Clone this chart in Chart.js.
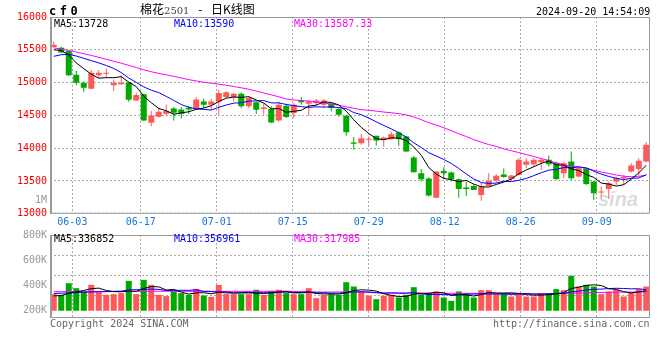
<!DOCTYPE html>
<html><head><meta charset="utf-8">
<script src="https://cdn.jsdelivr.net/npm/chart.js@4.4.1/dist/chart.umd.min.js"></script>
<style>
html,body{margin:0;padding:0;background:#fff;width:660px;height:360px;overflow:hidden;position:relative;font-family:'DejaVu Sans Mono',monospace;}
.t{position:absolute;white-space:pre;font-size:10px;line-height:1;font-family:'DejaVu Sans Mono',monospace;}
#c1{position:absolute;left:0;top:0;}
#c2{position:absolute;left:0;top:226px;}
</style></head><body>
<canvas id="c1" width="660" height="232"></canvas>
<canvas id="c2" width="660" height="134"></canvas>
<div class="t" style="left:49px;top:5px;font-weight:bold;font-size:12px;letter-spacing:3.5px">cf0</div>
<div class="t" style="left:140px;top:3px;font-family:'Noto Sans CJK SC';font-size:12px;word-spacing:6px;color:#000">棉花<span style="font-family:'DejaVu Serif';font-size:10px;color:#444">2501</span> - 日K线图</div>
<div class="t" style="left:536px;top:7px;color:#000">2024-09-20 14:54:09</div>
<div class="t" style="left:54px;top:18.5px;color:#000">MA5:13728</div>
<div class="t" style="left:174px;top:18.5px;color:#0000ff">MA10:13590</div>
<div class="t" style="left:294px;top:18.5px;color:#ff00ff">MA30:13587.33</div>
<div class="t" style="left:54px;top:233.5px;color:#000">MA5:336852</div>
<div class="t" style="left:174px;top:233.5px;color:#0000ff">MA10:356961</div>
<div class="t" style="left:294px;top:233.5px;color:#ff00ff">MA30:317985</div>
<div class="t" style="right:613px;top:195px;color:#999">1M</div>
<div class="t" style="left:50px;top:319px;color:#666">Copyright 2024 SINA.COM</div>
<div class="t" style="left:493px;top:319px;color:#666">http://finance.sina.com.cn</div>
<div class="t" style="left:598px;top:189px;font-family:'Liberation Sans';font-style:italic;font-weight:bold;font-size:20px;color:rgba(190,190,190,0.55)">sina</div>
<script>
const dates = ['05-29','05-30','05-31',
 '06-03','06-04','06-05','06-06','06-07','06-11','06-12','06-13','06-14',
 '06-17','06-18','06-19','06-20','06-21','06-24','06-25','06-26','06-27','06-28',
 '07-01','07-02','07-03','07-04','07-05','07-08','07-09','07-10','07-11','07-12',
 '07-15','07-16','07-17','07-18','07-19','07-22','07-23','07-24','07-25','07-26',
 '07-29','07-30','07-31','08-01','08-02','08-05','08-06','08-07','08-08','08-09',
 '08-12','08-13','08-14','08-15','08-16','08-19','08-20','08-21','08-22','08-23',
 '08-26','08-27','08-28','08-29','08-30','09-02','09-03','09-04','09-05','09-06',
 '09-09','09-10','09-11','09-12','09-13','09-18','09-19','09-20'];
const tickDates = ['06-03','06-17','07-01','07-15','07-29','08-12','08-26','09-09'];
const priceTicks = [13000,13500,14000,14500,15000,15500,16000];
const volTicks = [200,400,600,800];

const open = [15544,15530,15483,15121,14998,14907,15111,15136,14958,14973,
 14998,14728,14820,14386,14478,14524,14606,14590,14616,14606,
 14713,14662,14713,14779,14779,14830,14637,14698,14596,14596,
 14422,14647,14535,14728,14677,14688,14662,14677,14596,14494,
 14086,14076,14127,14188,14127,14137,14239,14178,13857,13617,
 13536,13245,13653,13627,13526,13398,13424,13286,13424,13505,
 13597,13530,13592,13745,13755,13785,13821,13770,13617,13796,
 13566,13694,13490,13322,13378,13490,13541,13643,13683,13796];
const high = [15626,15545,15493,15177,15019,15192,15187,15213,15049,15111,
 15009,14846,14830,14565,14616,14667,14626,14626,14641,14779,
 14754,14749,14891,14866,14841,14851,14790,14713,14688,14637,
 14713,14677,14688,14779,14738,14749,14749,14688,14611,14509,
 14168,14219,14178,14188,14178,14254,14254,14188,13882,13683,
 13556,13653,13709,13643,13541,13490,13449,13474,13617,13602,
 13690,13590,13847,13847,13847,13847,13887,13796,13796,13948,
 13719,13704,13500,13413,13490,13566,13592,13770,13847,14091];
const low = [15534,15450,15100,14958,14861,14897,15065,15075,14871,14963,
 14708,14718,14412,14335,14463,14504,14422,14453,14519,14590,
 14611,14586,14509,14764,14713,14611,14611,14519,14509,14382,
 14407,14458,14458,14662,14494,14647,14611,14560,14484,14188,
 13974,14050,14035,14035,14025,14127,14035,13938,13627,13490,
 13261,13235,13526,13490,13245,13271,13362,13199,13413,13474,
 13550,13515,13582,13694,13719,13668,13719,13515,13541,13515,
 13551,13439,13209,13235,13225,13439,13439,13633,13582,13785];
const close = [15575,15460,15111,14998,14922,15151,15151,15151,14998,14998,
 14738,14810,14422,14499,14555,14565,14540,14524,14590,14743,
 14662,14713,14841,14851,14830,14637,14764,14586,14621,14392,
 14662,14473,14662,14698,14713,14728,14728,14611,14509,14244,
 14066,14152,14142,14117,14162,14213,14137,13948,13632,13526,
 13276,13643,13617,13526,13378,13378,13362,13413,13500,13577,
 13561,13582,13821,13796,13821,13821,13755,13531,13770,13541,
 13694,13454,13311,13337,13464,13541,13561,13734,13806,14050];
const ma5 = [15500,15490,15420,15300,15213,15128,15067,15075,15075,15090,
 15007,14939,14793,14693,14605,14570,14516,14537,14555,14592,
 14612,14646,14710,14762,14779,14774,14785,14734,14688,14600,
 14605,14547,14562,14577,14642,14655,14706,14696,14658,14564,
 14432,14316,14223,14144,14128,14157,14154,14115,14018,13891,
 13704,13605,13539,13518,13488,13508,13452,13411,13406,13446,
 13483,13527,13608,13667,13716,13768,13803,13745,13740,13684,
 13658,13598,13554,13467,13452,13421,13443,13527,13621,13738];
const ma10 = [15400,15425,15430,15405,15370,15335,15300,15260,15215,15152,
 15068,15003,14934,14884,14847,14789,14728,14665,14624,14599,
 14591,14581,14623,14658,14686,14693,14716,14722,14725,14690,
 14690,14666,14648,14633,14621,14630,14626,14629,14618,14603,
 14543,14511,14459,14401,14346,14294,14235,14169,14081,14010,
 13931,13880,13827,13768,13690,13606,13529,13475,13462,13467,
 13496,13489,13510,13537,13581,13625,13665,13677,13704,13700,
 13713,13700,13649,13604,13568,13540,13520,13541,13544,13595];
const ma30 = [15530,15510,15490,15465,15440,15415,15385,15355,15325,15295,
 15262,15230,15195,15165,15140,15118,15095,15070,15045,15025,
 15005,14990,14975,14958,14940,14920,14898,14870,14842,14813,
 14783,14750,14735,14725,14718,14704,14690,14672,14656,14630,
 14608,14586,14577,14564,14551,14539,14526,14507,14475,14434,
 14388,14352,14311,14267,14219,14177,14130,14091,14054,14026,
 13990,13960,13932,13902,13872,13842,13810,13774,13749,13725,
 13713,13690,13662,13636,13613,13590,13571,13564,13570,13587];
// volumes in thousands of lots
const vol = [279,268,463,379,312,435,312,268,279,296,
 502,279,519,435,268,246,324,296,268,368,
 257,234,435,279,279,279,279,352,268,335,
 352,296,279,279,379,212,268,279,268,480,
 407,324,251,195,251,268,223,268,396,268,
 296,324,223,167,324,296,223,346,346,279,
 296,240,296,240,240,296,279,363,346,586,
 407,435,407,279,324,352,240,307,363,407];
const volMa5 = [250,255,290,320,340,371,380,341,321,318,
 331,325,375,406,401,349,358,314,280,300,
 303,285,312,315,297,301,310,294,291,303,
 317,321,306,308,317,289,283,283,281,301,
 340,352,346,331,286,258,238,241,281,285,
 290,310,301,256,267,267,247,271,307,298,
 298,301,291,270,262,262,270,284,305,374,
 396,427,436,423,370,359,320,300,317,334];
const volMa10 = [290,295,300,305,310,315,318,320,325,329,
 351,353,358,364,359,340,342,344,343,351,
 326,322,313,298,299,302,297,303,303,300,
 309,315,300,300,310,303,302,295,295,309,
 315,318,315,306,294,299,295,294,306,285,
 274,274,271,268,276,279,279,286,281,282,
 282,274,281,289,280,280,286,288,288,318,
 329,349,360,364,372,378,374,368,370,352];
const volMa30 = [320,320,322,323,323,324,324,325,325,325,
 326,326,327,328,328,327,327,327,327,327,
 327,326,327,326,326,326,326,326,326,326,
 329,330,324,320,323,315,314,314,314,320,
 317,318,309,301,301,301,298,297,301,298,
 299,302,295,292,293,294,292,292,294,292,
 290,289,289,288,283,286,286,289,292,295,
 295,299,304,307,309,312,313,314,313,318];

const UP = '#ff5858', DOWN = '#00a800';
const candleColor = close.map((c,i) => c >= open[i] ? UP : DOWN);
const MONO = {family:'DejaVu Sans Mono', size:10};
const GRID = '#aaaaaa';

const framePlugin = {
  id:'frame',
  afterDraw(chart){
    const {ctx, chartArea:a} = chart;
    ctx.save();
    ctx.strokeStyle = '#999'; ctx.lineWidth = 1;
    ctx.strokeRect(a.left+0.5, a.top+0.5, a.right-a.left-1, a.bottom-a.top-1);
    ctx.lineWidth = 2;
    ctx.beginPath(); ctx.moveTo(a.left+1, a.top); ctx.lineTo(a.left+1, a.bottom); ctx.stroke();
    ctx.restore();
  }
};

function dateGridAxis(showLabels, h){
  return {
    type:'linear', position:'bottom', min:0.06, max:79.0, offset:false,
    afterBuildTicks: s => { s.ticks = tickDates.map(d => ({value: dates.indexOf(d)})); },
    afterFit: s => { s.height = h; },
    ticks:{display:showLabels, autoSkip:false, maxRotation:0, color:'#1478d4', font:MONO, padding:3,
      callback: v => dates[v]},
    grid:{color:GRID, lineWidth:1, drawTicks:false, offset:false},
    border:{display:false, dash:[2,2]}
  };
}
const lineDs = (label, data, color, yId) => ({type:'line', label, data, borderColor:color, borderWidth:1,
  pointRadius:0, tension:0, fill:false, order:0, yAxisID:yId, xAxisID:'x'});

new Chart(document.getElementById('c1'), {
  type:'bar',
  data:{
    labels: dates,
    datasets:[
      lineDs('MA5', ma5, '#000000', 'y'),
      lineDs('MA10', ma10, '#0000ff', 'y'),
      lineDs('MA30', ma30, '#ff00ff', 'y'),
      {label:'body', data: open.map((o,i)=>[o, close[i]]), backgroundColor:candleColor, borderWidth:0,
        barThickness:6, grouped:false, inflateAmount:0, order:1, xAxisID:'x', yAxisID:'y'},
      {label:'wick', data: low.map((l,i)=>[l, high[i]]), backgroundColor:candleColor, borderWidth:0,
        barThickness:1, grouped:false, inflateAmount:0, order:2, xAxisID:'x', yAxisID:'y'}
    ]
  },
  options:{
    responsive:false, animation:false, events:[],
    layout:{padding:{top:17, right:10, left:0, bottom:0}},
    plugins:{legend:{display:false}, tooltip:{enabled:false}},
    scales:{
      x:{type:'category', offset:true, display:false},
      xg: dateGridAxis(true, 18.3),
      y:{type:'linear', position:'left', min:13000, max:16000,
        afterBuildTicks: s => { s.ticks = priceTicks.map(v => ({value:v})); },
        afterFit: s => { s.width = 50; },
        ticks:{color:'#ff0000', font:MONO, padding:3, callback: v => String(v)},
        grid:{color:GRID, lineWidth:1, drawTicks:false},
        border:{display:false, dash:[2,2]}}
    }
  },
  plugins:[framePlugin]
});

new Chart(document.getElementById('c2'), {
  type:'bar',
  data:{
    labels: dates,
    datasets:[
      lineDs('MA5', volMa5, '#000000', 'y'),
      lineDs('MA10', volMa10, '#0000ff', 'y'),
      lineDs('MA30', volMa30, '#ff00ff', 'y'),
      {label:'volume', data: vol, backgroundColor:candleColor, borderWidth:0, barThickness:6,
        grouped:false, inflateAmount:0, order:1, xAxisID:'x', yAxisID:'y'}
    ]
  },
  options:{
    responsive:false, animation:false, events:[],
    layout:{padding:{top:8.7, right:10, left:0, bottom:0}},
    plugins:{legend:{display:false}, tooltip:{enabled:false}},
    scales:{
      x:{type:'category', offset:true, display:false},
      xg: dateGridAxis(false, 42),
      y:{type:'linear', display:false, min:-122, max:1273},
      yg:{type:'linear', position:'left', reverse:true, min:0, max:4.1,
        afterBuildTicks: s => { s.ticks = [1,2,3].map(v => ({value:v})); },
        afterFit: s => { s.width = 0; },
        ticks:{display:false},
        grid:{color:GRID, lineWidth:1, drawTicks:false},
        border:{display:false, dash:[2,2]}},
      yl:{type:'linear', position:'left', min:136, max:800,
        afterBuildTicks: s => { s.ticks = volTicks.map(v => ({value:v})); },
        afterFit: s => { s.width = 50; },
        ticks:{color:'#999', font:MONO, padding:3, callback: v => v + 'K'},
        grid:{display:false, drawTicks:false},
        border:{display:false}}
    }
  },
  plugins:[framePlugin]
});
</script>
</body></html>
